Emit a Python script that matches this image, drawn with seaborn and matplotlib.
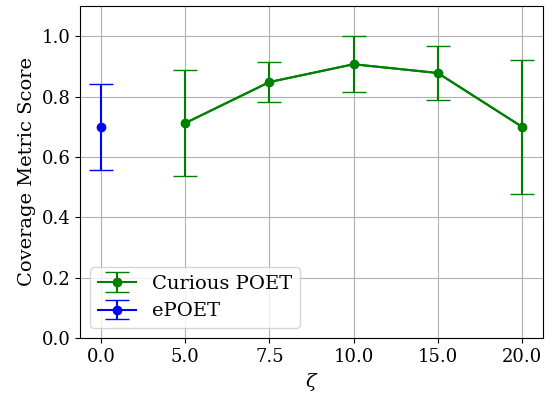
import matplotlib
matplotlib.use("Agg")
import matplotlib.pyplot as plt
import seaborn as sns
import numpy as np
import pandas as pd

zeta_labels = ["0.0", "5.0", "7.5", "10.0", "15.0", "20.0"]
curious_zeta = ["5.0", "7.5", "10.0", "15.0", "20.0"]
curious_mean = [0.712, 0.848, 0.907, 0.878, 0.700]
curious_err = [0.176, 0.066, 0.092, 0.088, 0.222]
epoet_zeta = ["0.0"]
epoet_mean = [0.700]
epoet_err = [0.143]

plt.rcParams["font.family"] = ["DejaVu Serif"]
plt.rcParams["mathtext.fontset"] = "dejavuserif"

fig = plt.figure(figsize=(5.5, 3.93), dpi=100)
ax = fig.add_axes([80 / 550, 1 - 338 / 393, 463 / 550, 332 / 393])

pos = {lab: i for i, lab in enumerate(zeta_labels)}
cx = [pos[z] for z in curious_zeta]
ex = [pos[z] for z in epoet_zeta]

df = pd.DataFrame({"x": cx, "y": curious_mean})
sns.lineplot(data=df, x="x", y="y", ax=ax, color="green", lw=1.5, legend=False)

ax.errorbar(cx, curious_mean, yerr=curious_err, fmt="o-", color="green",
            capsize=8.6, lw=1.5, ms=6, label="Curious POET")
ax.errorbar(ex, epoet_mean, yerr=epoet_err, fmt="o-", color="blue",
            capsize=8.6, lw=1.5, ms=6, label="ePOET")

ax.set_xticks(range(len(zeta_labels)))
ax.set_xticklabels(zeta_labels)
ax.set_xlim(-0.25, 5.25)
ax.set_ylim(0, 1.1)
ax.set_yticks([0, 0.2, 0.4, 0.6, 0.8, 1.0])
ax.tick_params(labelsize=13)
ax.grid(True, color="#b0b0b0", lw=0.8)
ax.set_axisbelow(True)
ax.set_xlabel(r"$\zeta$", fontsize=14)
ax.set_ylabel("Coverage Metric Score", fontsize=14)
ax.legend(loc="lower left", fontsize=14)

fig.savefig("out.png", dpi=100)
